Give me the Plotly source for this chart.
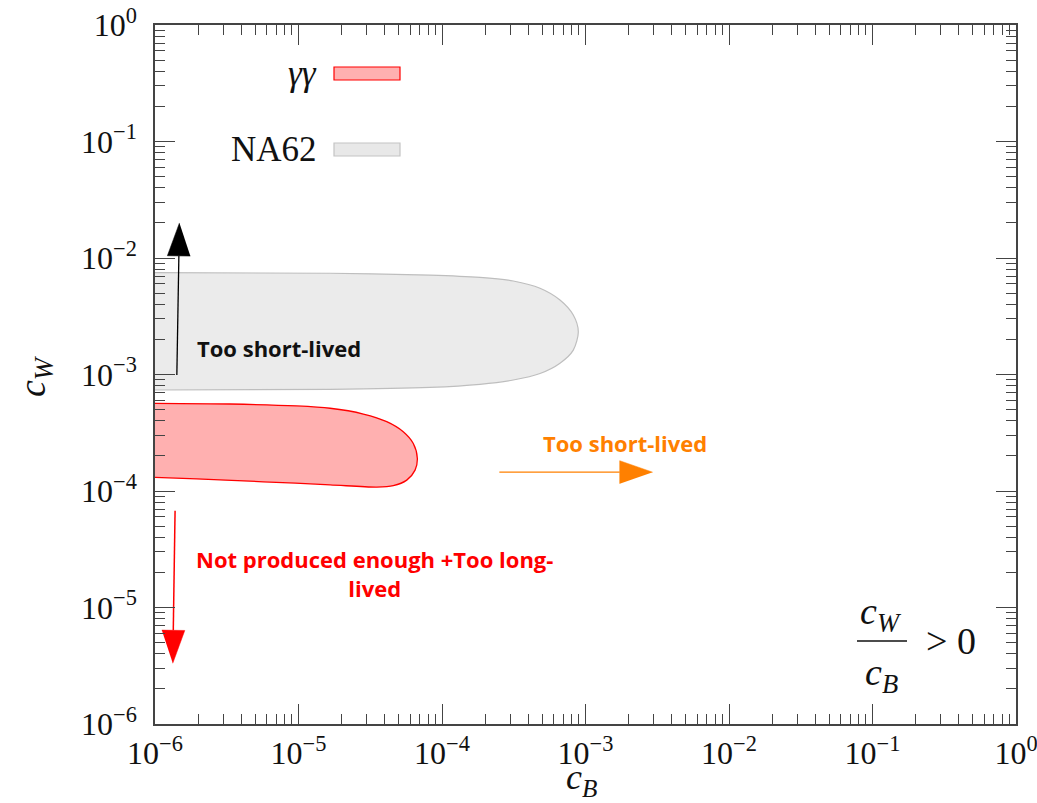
import numpy as np
import plotly.graph_objects as go

W, H = 1037, 803
M = dict(l=155, r=21, t=25, b=79)

# ---- region boundaries (c_B, c_W), traced clockwise from the top-left ----
na62_cB = [1.0e-6, 1.66e-5, 8.24e-5, 1.84e-4, 3.14e-4, 4.82e-4, 6.64e-4, 8.22e-4, 8.91e-4,
           8.22e-4, 6.64e-4, 4.82e-4, 3.14e-4, 1.84e-4, 8.24e-5, 1.66e-5, 1.0e-6]
na62_cW = [7.48e-3, 7.40e-3, 7.14e-3, 6.82e-3, 6.35e-3, 5.50e-3, 4.36e-3, 3.24e-3, 2.33e-3,
           1.62e-3, 1.25e-3, 1.02e-3, 8.97e-4, 8.24e-4, 7.76e-4, 7.46e-4, 7.36e-4]

gg_cB = [1.0e-6, 3.33e-6, 9.70e-6, 1.66e-5, 2.83e-5, 4.12e-5, 5.37e-5, 6.31e-5, 6.73e-5,
         6.49e-5, 5.68e-5, 4.58e-5, 3.51e-5, 1.66e-5, 5.69e-6, 1.95e-6, 1.0e-6]
gg_cW = [5.66e-4, 5.58e-4, 5.37e-4, 5.13e-4, 4.58e-4, 3.94e-4, 3.23e-4, 2.56e-4, 1.91e-4,
         1.51e-4, 1.24e-4, 1.11e-4, 1.08e-4, 1.13e-4, 1.20e-4, 1.27e-4, 1.31e-4]

# ---- axis ticks ----
decades = [-6, -5, -4, -3, -2, -1, 0]
major_vals = [10.0 ** e for e in decades]
major_text = ["10<sup>\u2212%d</sup>" % -e if e < 0 else "10<sup>0</sup>" for e in decades]
minor_vals = [k * 10.0 ** e for e in decades[:-1] for k in range(2, 10)]

SERIF = "Liberation Serif"
SANS = "Open Sans"
AXC = "#444444"
INK = "#111111"

fig = go.Figure()

fig.add_trace(go.Scatter(
    x=na62_cB, y=na62_cW, mode="lines", fill="toself",
    fillcolor="#EBEBEB", line=dict(color="#BEBEBE", width=1.2, shape="spline", smoothing=0.8),
    hoverinfo="skip", showlegend=False))
fig.add_trace(go.Scatter(
    x=gg_cB, y=gg_cW, mode="lines", fill="toself",
    fillcolor="rgba(255,0,0,0.31)", line=dict(color="#FF0000", width=1.3, shape="spline", smoothing=0.8),
    hoverinfo="skip", showlegend=False))

# ---- arrows (shaft + filled triangular head) ----
ax_w = W - M["l"] - M["r"]
ax_h = H - M["t"] - M["b"]
px_x = ax_w / 6.0
px_y = ax_h / 6.0


def arrow(x0, y0, x1, y1, color, width, head_len=33.0, head_w=23.0):
    lx0, ly0, lx1, ly1 = np.log10([x0, y0, x1, y1])
    dx, dy = (lx1 - lx0) * px_x, (ly1 - ly0) * px_y
    L = np.hypot(dx, dy)
    ux, uy = dx / L, dy / L
    tx, ty = lx1 * px_x, ly1 * px_y
    bx, by = tx - ux * head_len, ty - uy * head_len
    nx, ny = -uy, ux
    hx = [tx, bx + nx * head_w / 2, bx - nx * head_w / 2]
    hy = [ty, by + ny * head_w / 2, by - ny * head_w / 2]
    fig.add_trace(go.Scatter(
        x=[x0, 10 ** (bx / px_x)], y=[y0, 10 ** (by / px_y)], mode="lines",
        line=dict(color=color, width=width), hoverinfo="skip", showlegend=False))
    fig.add_trace(go.Scatter(
        x=[10 ** (v / px_x) for v in hx], y=[10 ** (v / px_y) for v in hy],
        mode="lines", fill="toself", fillcolor=color, line=dict(color=color, width=0.5),
        hoverinfo="skip", showlegend=False))


arrow(1.42e-6, 9.9e-4, 1.48e-6, 2.0e-2, "#000000", 1.3)
arrow(1.38e-6, 6.78e-5, 1.33e-6, 3.32e-6, "#FF0000", 1.5)
arrow(2.51e-4, 1.45e-4, 2.94e-3, 1.45e-4, "#FF8000", 1.3)

axis_common = dict(
    type="log", range=[-6, 0], showline=True, linecolor=AXC, linewidth=1.5, mirror="ticks",
    ticks="inside", ticklen=20, tickwidth=1.3, tickcolor=AXC, showgrid=False, zeroline=False,
    automargin=False, ticklabeloverflow="allow",
    tickvals=major_vals, ticktext=major_text,
    tickfont=dict(family=SERIF, size=32, color=INK),
    minor=dict(ticks="inside", ticklen=10, tickwidth=1.2, tickcolor=AXC, tickvals=minor_vals,
               showgrid=False),
)

fig.update_layout(
    width=W, height=H, margin=M, plot_bgcolor="white", paper_bgcolor="white",
    showlegend=False,
    xaxis=dict(axis_common),
    yaxis=dict(axis_common, ticklabelstandoff=10),
)


def px2paper(px, py):
    return (px - M["l"]) / ax_w, 1 - (py - M["t"]) / ax_h


def label(px, py, text, size=38, family=SERIF, color=INK, xanchor="center", yanchor="middle", **kw):
    x, y = px2paper(px, py)
    fig.add_annotation(xref="paper", yref="paper", x=x, y=y, text=text, showarrow=False,
                       xanchor=xanchor, yanchor=yanchor,
                       font=dict(family=family, size=size, color=color), **kw)


# ---- axis titles ----
label(581, 779, "<i>c</i><sub><i>B</i></sub>", size=36)
label(35, 376, "<i>c</i><sub><i>W</i></sub>", textangle=-90)

# ---- legend drawn by hand: label to the left of a swatch ----
legend_items = [("<i>\u03b3\u03b3</i>", 73.5, "rgba(255,0,0,0.31)", "#FF0000"),
                ("NA62", 149.5, "#E8E8E8", "#C4C4C4")]
for text, cy, fc, lc in legend_items:
    x0, y0 = px2paper(334, cy + 6.5)
    x1, y1 = px2paper(400, cy - 6.5)
    fig.add_shape(type="rect", xref="paper", yref="paper", x0=x0, x1=x1, y0=y0, y1=y1,
                  fillcolor=fc, line=dict(color=lc, width=1.2))
    label(319, cy, text, size=35, xanchor="right")

# ---- region labels ----
fig.add_annotation(xref="x", yref="y", x=-5.136, y=-2.773, text="<b>Too short-lived</b>",
                   showarrow=False, font=dict(family=SANS, size=22, color=INK))
fig.add_annotation(xref="x", yref="y", x=-2.725, y=-3.588, text="<b>Too short-lived</b>",
                   showarrow=False, font=dict(family=SANS, size=22, color="#FF8000"))
fig.add_annotation(xref="x", yref="y", x=-4.467, y=-4.704,
                   text="<b>Not produced enough +Too long-</b><br><b>lived</b>",
                   showarrow=False, align="center",
                   font=dict(family=SANS, size=22, color="#FF0000"))

# ---- c_W / c_B > 0 ----
label(881, 614, "<i>c</i><sub><i>W</i></sub>")
label(881, 675, "<i>c</i><sub><i>B</i></sub>")
bx0, by_ = px2paper(857, 641)
bx1, _ = px2paper(907, 641)
fig.add_shape(type="line", xref="paper", yref="paper", x0=bx0, x1=bx1, y0=by_, y1=by_,
              line=dict(color=INK, width=1.6))
label(951, 641, "&gt; 0")

fig.write_html("out.html")
